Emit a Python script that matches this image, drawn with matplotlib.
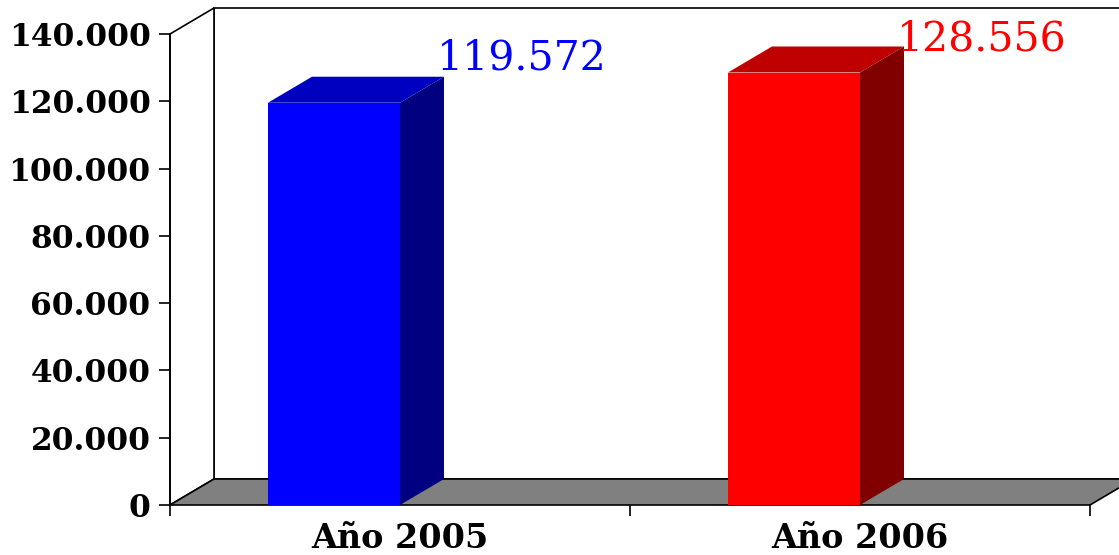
import matplotlib
matplotlib.use("Agg")
import matplotlib.pyplot as plt
from matplotlib.patches import Polygon
from matplotlib.ticker import FuncFormatter, FixedLocator

categories = ["Año 2005", "Año 2006"]
values = [119572, 128556]
labels = ["119.572", "128.556"]
front_colors = ["#0000FF", "#FF0000"]
side_colors = ["#000080", "#800000"]
top_colors = ["#0000C0", "#BE0000"]
label_colors = ["#0000FF", "#FF0000"]

ymax = 140000
W, H = 1119, 555
fig = plt.figure(figsize=(W / 100, H / 100), dpi=100)
# axes box = front plane of the 3d chart
ax = fig.add_axes([170 / W, 50 / H, 920 / W, 471 / H])
ax.set_xlim(0, 2)
ax.set_ylim(0, ymax)

# depth offset (44 px right, 26 px up) in data units
dx = 44 / 460
dy = 26 * ymax / 471


def poly(pts, fc, ec="none", lw=1.2, z=1):
    p = Polygon(pts, closed=True, facecolor=fc, edgecolor=ec, linewidth=lw,
                clip_on=False, zorder=z, joinstyle="miter")
    ax.add_patch(p)


# left wall and back wall
poly([(0, 0), (dx, dy), (dx, ymax + dy), (0, ymax)], "white", "black", z=0.5)
poly([(dx, dy), (2.5, dy), (2.5, ymax + dy), (dx, ymax + dy)], "white", "black", z=0.4)
# floor
poly([(0, 0), (2, 0), (2 + dx, dy), (dx, dy)], "#808080", "black", z=0.6)

# bars
for i, v in enumerate(values):
    x0 = i + 0.213
    x1 = i + 0.5
    poly([(x0, 0), (x1, 0), (x1, v), (x0, v)], front_colors[i], z=2)
    poly([(x1, 0), (x1 + dx, dy), (x1 + dx, v + dy), (x1, v)], side_colors[i], z=2)
    poly([(x0, v), (x1, v), (x1 + dx, v + dy), (x0 + dx, v + dy)], top_colors[i], z=2)
    # label kept inside the chart area, like the original
    ly = min(v + dy + 2000, ymax - 4800)
    ax.text(x1 + 0.08, ly, labels[i], color=label_colors[i],
            fontsize=29.5, family="DejaVu Serif", ha="left", va="baseline", zorder=3)

for s in ["top", "right", "bottom"]:
    ax.spines[s].set_visible(False)
ax.spines["left"].set_linewidth(1.2)
ax.spines["left"].set_zorder(5)
ax.patch.set_visible(False)

ax.yaxis.set_major_locator(FixedLocator(range(0, ymax + 1, 20000)))
ax.yaxis.set_major_formatter(FuncFormatter(lambda v, p: f"{int(v):,}".replace(",", ".")))
ax.tick_params(axis="y", length=8, width=1.2, pad=6, labelsize=22.5)

ax.set_xticks([0, 1, 2])
ax.set_xticklabels(["", "", ""])
ax.set_xticks([0.5, 1.5], minor=True)
ax.set_xticklabels(categories, minor=True)
ax.tick_params(axis="x", which="major", length=8, width=1.2)
ax.tick_params(axis="x", which="minor", length=0, pad=12, labelsize=24)

for t in ax.get_yticklabels() + ax.get_xticklabels(minor=True):
    t.set_family("DejaVu Serif")
    t.set_fontweight("bold")

fig.savefig("out.png", dpi=100)
